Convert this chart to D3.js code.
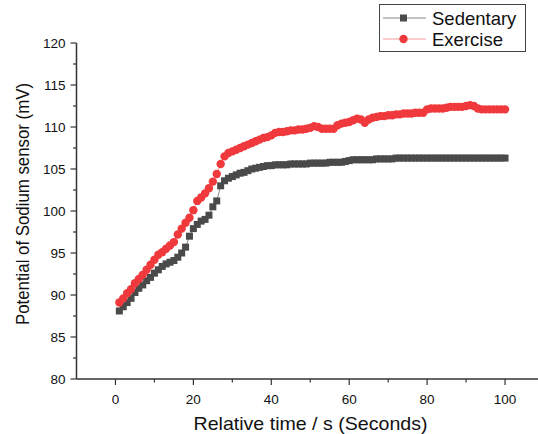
<!DOCTYPE html>
<html>
<head>
<meta charset="utf-8">
<script src="https://cdn.jsdelivr.net/npm/d3@7"></script>
<style>
  html, body { margin: 0; padding: 0; background: #fff; }
  svg { display: block; font-family: "Liberation Sans", Arial, sans-serif; }
</style>
</head>
<body>
<svg id="chart" width="538" height="434"></svg>
<script>
// Sampling times (s)
const time = d3.range(1, 101);

// Sodium sensor potential (mV), sedentary subject
const sedentary = [
  88.1, 88.6, 89.1, 89.6, 90.3, 90.8, 91.2, 91.7, 92.1, 92.6,
  93.0, 93.4, 93.7, 93.9, 94.1, 94.5, 95.0, 95.7, 97.0, 97.9,
  98.4, 98.8, 99.0, 99.5, 100.5, 101.2, 103.0, 103.6, 103.9, 104.1,
  104.3, 104.5, 104.6, 104.8, 105.0, 105.1, 105.2, 105.3, 105.4, 105.4,
  105.5, 105.5, 105.5, 105.5, 105.6, 105.6, 105.6, 105.6, 105.6, 105.7,
  105.7, 105.7, 105.7, 105.7, 105.8, 105.8, 105.8, 105.8, 105.9, 106.0,
  106.1, 106.1, 106.1, 106.1, 106.1, 106.1, 106.2, 106.2, 106.2, 106.2,
  106.2, 106.3, 106.3, 106.3, 106.3, 106.3, 106.3, 106.3, 106.3, 106.3,
  106.3, 106.3, 106.3, 106.3, 106.3, 106.3, 106.3, 106.3, 106.3, 106.3,
  106.3, 106.3, 106.3, 106.3, 106.3, 106.3, 106.3, 106.3, 106.3, 106.3
];

// Sodium sensor potential (mV), subject during exercise
const exercise = [
  89.1, 89.6, 90.2, 90.7, 91.4, 91.9, 92.4, 93.0, 93.6, 94.2,
  94.8, 95.1, 95.5, 95.9, 96.3, 97.2, 97.9, 98.6, 99.2, 100.1,
  101.2, 101.6, 102.1, 102.7, 103.5, 104.4, 105.6, 106.5, 106.9, 107.1,
  107.3, 107.5, 107.7, 107.9, 108.1, 108.3, 108.5, 108.7, 108.8, 109.0,
  109.3, 109.4, 109.4, 109.5, 109.6, 109.6, 109.7, 109.7, 109.8, 109.9,
  110.1, 110.0, 109.8, 109.8, 109.8, 109.8, 110.2, 110.4, 110.5, 110.6,
  110.8, 111.0, 110.9, 110.5, 110.9, 111.1, 111.2, 111.3, 111.3, 111.4,
  111.4, 111.5, 111.5, 111.6, 111.6, 111.6, 111.7, 111.7, 111.7, 112.1,
  112.2, 112.2, 112.2, 112.2, 112.3, 112.4, 112.4, 112.4, 112.4, 112.5,
  112.6, 112.5, 112.2, 112.1, 112.1, 112.1, 112.1, 112.1, 112.1, 112.1
];

const xTicks = [0, 20, 40, 60, 80, 100];
const yTicks = [80, 85, 90, 95, 100, 105, 110, 115, 120];
const seriesNames = ["Sedentary", "Exercise"];

const svg = d3.select("#chart");
const axisColor = "#333";

const x = d3.scaleLinear().domain([-10, 110]).range([76.5, 544]);
const y = d3.scaleLinear().domain([80, 120]).range([379, 43]);

// X axis
const gx = svg.append("g").attr("transform", `translate(0,${y(80)})`);
gx.append("line").attr("x1", x(-10)).attr("x2", 538)
  .attr("stroke", axisColor).attr("stroke-width", 1.5);
gx.selectAll(".minor").data(d3.range(10, 100, 20)).join("line")
  .attr("x1", d => x(d)).attr("x2", d => x(d)).attr("y1", 0).attr("y2", 3.5)
  .attr("stroke", axisColor).attr("stroke-width", 1.2);
gx.selectAll(".major").data(xTicks).join("line")
  .attr("x1", d => x(d)).attr("x2", d => x(d)).attr("y1", 0).attr("y2", 6)
  .attr("stroke", axisColor).attr("stroke-width", 1.2);
gx.selectAll("text").data(xTicks).join("text")
  .attr("x", d => x(d)).attr("y", 24.5)
  .attr("text-anchor", "middle").attr("font-size", 13.5).attr("fill", "#111")
  .text(d => d);

// Y axis
const gy = svg.append("g").attr("transform", `translate(${x(-10)},0)`);
gy.append("line").attr("y1", y(80)).attr("y2", y(120))
  .attr("stroke", axisColor).attr("stroke-width", 1.5);
gy.selectAll(".minor").data(d3.range(82.5, 120, 5)).join("line")
  .attr("y1", d => y(d)).attr("y2", d => y(d)).attr("x1", 0).attr("x2", -3.5)
  .attr("stroke", axisColor).attr("stroke-width", 1.2);
gy.selectAll(".major").data(yTicks).join("line")
  .attr("y1", d => y(d)).attr("y2", d => y(d)).attr("x1", 0).attr("x2", -6)
  .attr("stroke", axisColor).attr("stroke-width", 1.2);
gy.selectAll("text").data(yTicks).join("text")
  .attr("x", -11).attr("y", d => y(d) + 4.8)
  .attr("text-anchor", "end").attr("font-size", 13.5).attr("fill", "#111")
  .text(d => d);

// Axis titles
svg.append("text").attr("x", 310.5).attr("y", 430)
  .attr("text-anchor", "middle").attr("font-size", 18.5).attr("fill", "#111")
  .attr("textLength", 234).attr("lengthAdjust", "spacingAndGlyphs")
  .text("Relative time / s (Seconds)");
svg.append("text")
  .attr("transform", "translate(28.5,204) rotate(-90)")
  .attr("text-anchor", "middle").attr("font-size", 18.5).attr("fill", "#111")
  .attr("textLength", 242).attr("lengthAdjust", "spacingAndGlyphs")
  .text("Potential of Sodium sensor (mV)");

const line = d3.line().x(d => x(d[0])).y(d => y(d[1]));
const sedPts = time.map((t, i) => [t, sedentary[i]]);
const exPts = time.map((t, i) => [t, exercise[i]]);

const gray = "#4a4a4a", red = "#f0393c";

// Sedentary series: thin line with square markers
svg.append("path").datum(sedPts).attr("d", line)
  .attr("fill", "none").attr("stroke", "#888").attr("stroke-width", 1);
svg.append("g").selectAll("rect").data(sedPts).join("rect")
  .attr("x", d => x(d[0]) - 3.5).attr("y", d => y(d[1]) - 3.5)
  .attr("width", 7).attr("height", 7).attr("fill", gray);

// Exercise series: thin line with round markers
svg.append("path").datum(exPts).attr("d", line)
  .attr("fill", "none").attr("stroke", "#f59a9b").attr("stroke-width", 1);
svg.append("g").selectAll("circle").data(exPts).join("circle")
  .attr("cx", d => x(d[0])).attr("cy", d => y(d[1])).attr("r", 4.2)
  .attr("fill", red);

// Legend
const lg = svg.append("g");
lg.append("rect").attr("x", 379.5).attr("y", 4.5).attr("width", 146).attr("height", 47)
  .attr("fill", "#fff").attr("stroke", "#444").attr("stroke-width", 1);
const items = [
  { name: seriesNames[0], color: gray, lineColor: "#888", shape: "square", yy: 18 },
  { name: seriesNames[1], color: red, lineColor: "#f59a9b", shape: "circle", yy: 39 }
];
items.forEach(it => {
  lg.append("line").attr("x1", 383).attr("x2", 426).attr("y1", it.yy).attr("y2", it.yy)
    .attr("stroke", it.lineColor).attr("stroke-width", 1);
  if (it.shape === "square") {
    lg.append("rect").attr("x", 400).attr("y", it.yy - 3.5).attr("width", 7).attr("height", 7)
      .attr("fill", it.color);
  } else {
    lg.append("circle").attr("cx", 403.5).attr("cy", it.yy).attr("r", 4.2).attr("fill", it.color);
  }
  lg.append("text").attr("x", 432).attr("y", it.yy + 6.5)
    .attr("font-size", 18.5).attr("fill", "#111").text(it.name);
});
</script>
</body>
</html>
